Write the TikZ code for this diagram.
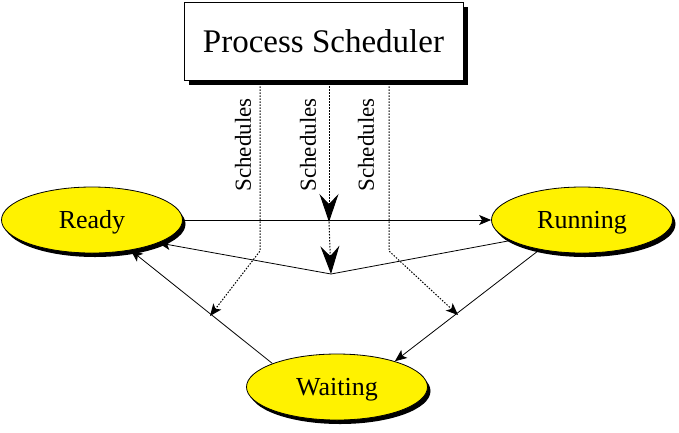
\documentclass[tikz,border=0pt]{standalone}
\usepackage{fontspec}
\setmainfont{Liberation Serif}
\usetikzlibrary{shapes,arrows.meta,shadows}

\begin{document}
\begin{tikzpicture}[x=1pt, y=-1pt, >={Stealth[length=12pt,width=10pt,inset=3pt]},
  state/.style={draw, ellipse, fill=yellow, line width=0.8pt, minimum width=181pt, minimum height=66pt, inner sep=0pt,
    font=\fontsize{26}{30}\selectfont, text depth=1pt, drop shadow={shadow xshift=3pt, shadow yshift=-4pt, fill=black, opacity=1}},
  sched/.style={dash pattern=on 1.5pt off 1.5pt, line width=1pt},
  lbl/.style={rotate=90, inner sep=0pt, font=\fontsize{23}{26}\selectfont},
  big/.style={-{Stealth[length=28pt,width=19pt,inset=10pt]}}]
  \useasboundingbox (0,0) rectangle (679,432);
  \node [draw, rectangle, fill=white, line width=0.8pt, minimum width=279pt, minimum height=78pt, font=\fontsize{33}{38}\selectfont,
    drop shadow={shadow xshift=5pt, shadow yshift=-5pt, fill=black, opacity=1}] (ps) at (323.5,41) {Process Scheduler};
  \node [state] (ready) at (92,220) {Ready};
  \node [state] (running) at (582,220) {Running};
  \node [state] (waiting) at (337,387) {Waiting};
  % transitions
  \coordinate (vee) at (331,274);
  \draw [->, line width=0.8pt] (ready) -- (running);
  \draw [->, line width=0.8pt] (running.-164) -- (vee) -- (ready.-19);
  \draw [->, line width=0.8pt] (running.-145) -- (waiting.24);
  \draw [->, line width=0.8pt] (waiting.160) -- (ready.-38);
  % scheduler links
  \coordinate (lbend) at (260,251);
  \coordinate (ltip) at (210,316);
  \coordinate (rbend) at (389,251);
  \coordinate (rtip) at (458,315);
  \coordinate (hit) at (329,222);
  \draw [sched, ->] (ps.south -| lbend) -- (lbend) -- (ltip);
  \draw [sched, ->] (ps.south -| rbend) -- (rbend) -- (rtip);
  \draw [sched, big] (ps.south -| hit) -- (hit);
  \draw [sched, big] (hit) -- (vee);
  \node [lbl] (s1) at (243,145) {Schedules};
  \node [lbl] (s2) at (308,145) {Schedules};
  \node [lbl] (s3) at (366,145) {Schedules};
\end{tikzpicture}
\end{document}
